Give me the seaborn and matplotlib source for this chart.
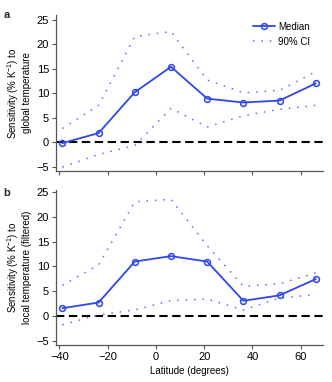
import numpy as np
import pandas as pd
import matplotlib
matplotlib.use("Agg")
import matplotlib.pyplot as plt
import seaborn as sns

latitude = [-38.75, -23.75, -8.75, 6.25, 21.25, 36.25, 51.25, 66.25]

a_median = [-0.2, 1.85, 10.2, 15.4, 8.9, 8.1, 8.5, 12.0]
a_upper = [2.8, 7.5, 21.6, 22.6, 12.7, 10.1, 10.6, 14.4]
a_lower = [-5.1, -2.5, -0.7, 6.9, 3.1, 5.4, 6.7, 7.5]

b_median = [1.55, 2.7, 11.0, 12.1, 11.0, 3.05, 4.15, 7.45]
b_upper = [6.2, 10.3, 23.1, 23.6, 14.2, 6.0, 6.5, 8.7]
b_lower = [-1.8, 0.2, 1.2, 3.1, 3.4, 1.2, 3.6, 4.3]

yticks = [-5, 0, 5, 10, 15, 20, 25]
xticks = [-40, -20, 0, 20, 40, 60]

sns.set_theme(style="ticks")
plt.rcParams['font.family'] = ['Liberation Sans', 'DejaVu Sans']
plt.rcParams['mathtext.fontset'] = 'custom'
plt.rcParams['mathtext.rm'] = 'Liberation Sans'
plt.rcParams['mathtext.it'] = 'Liberation Sans:italic'

MED = "#2f45f0"
CI = "#5a70ff"
SPINE = "#555555"

fig = plt.figure(figsize=(3.32, 3.82), dpi=100)
ax_a = fig.add_axes([0.1687, 0.5524, 0.803, 0.4084])
ax_b = fig.add_axes([0.1687, 0.0969, 0.803, 0.4058])

def draw(ax, med, up, lo, ylabel, ylim, show_legend, show_xlabels):
    df = pd.DataFrame({"lat": latitude, "med": med, "up": up, "lo": lo})
    ax.axhline(0, color="black", lw=1.5, dashes=(4, 2.2), zorder=1)
    sns.lineplot(data=df, x="lat", y="up", ax=ax, color=CI, lw=1.1,
                 linestyle=(0, (1, 4.5)), label="90% CI", legend=False, zorder=2)
    sns.lineplot(data=df, x="lat", y="lo", ax=ax, color=CI, lw=1.1,
                 linestyle=(0, (1, 4.5)), legend=False, zorder=2)
    sns.lineplot(data=df, x="lat", y="med", ax=ax, color=MED, lw=1.3,
                 marker="o", markersize=4.2, markerfacecolor="none",
                 markeredgecolor=MED, markeredgewidth=1.1, label="Median",
                 legend=False, zorder=3)
    ax.set_xlim(-41.4, 69.1)
    ax.set_ylim(*ylim)
    ax.set_yticks(yticks)
    ax.set_xticks(xticks)
    ax.tick_params(axis="both", labelsize=8, length=3, width=0.8,
                   color=SPINE, labelcolor="black", pad=2, direction="out")
    for s in ["top", "right"]:
        ax.spines[s].set_visible(False)
    for s in ["left", "bottom"]:
        ax.spines[s].set_color(SPINE)
        ax.spines[s].set_linewidth(0.9)
    ax.set_ylabel(ylabel, fontsize=7, labelpad=3, color="black")
    if show_xlabels:
        ax.set_xlabel("Latitude (degrees)", fontsize=7, labelpad=3, color="black")
    else:
        ax.set_xlabel("")
        ax.set_xticklabels([])
    if show_legend:
        h, l = ax.get_legend_handles_labels()
        order = [l.index("Median"), l.index("90% CI")]
        leg = ax.legend([h[i] for i in order], [l[i] for i in order],
                        loc="upper right", frameon=False, fontsize=7,
                        handlelength=2.2, handletextpad=0.4, labelspacing=0.5,
                        bbox_to_anchor=(0.98, 1.0), borderaxespad=0.3)
        for t in leg.get_texts():
            t.set_color("black")

draw(ax_a, a_median, a_upper, a_lower,
     "Sensitivity (% K$^{-1}$) to\nglobal temperature", (-5.9, 26.0), True, False)
draw(ax_b, b_median, b_upper, b_lower,
     "Sensitivity (% K$^{-1}$) to\nlocal temperature (filtered)", (-5.9, 25.5), False, True)

fig.text(0.01, 0.975, "a", fontsize=8, fontweight="bold", va="top")
fig.text(0.01, 0.508, "b", fontsize=8, fontweight="bold", va="top")

fig.savefig("out.png", dpi=100)
